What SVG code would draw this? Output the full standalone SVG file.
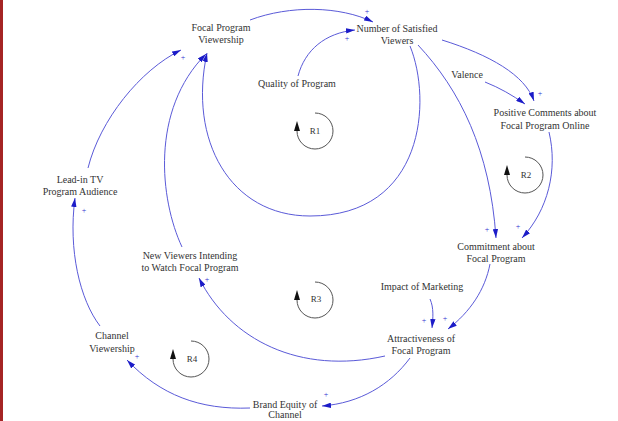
<svg xmlns="http://www.w3.org/2000/svg" width="618" height="421" viewBox="0 0 618 421" font-family="Liberation Serif, Times New Roman, serif">
<defs>
<marker id="ah" viewBox="0 0 10 6" refX="10" refY="3" markerWidth="9" markerHeight="5.4" markerUnits="userSpaceOnUse" orient="auto">
<path d="M0,0 L10,3 L0,6 Z" fill="#1c1cc8"/>
</marker>
<style>
.lbl{font-size:10px;fill:#333;text-anchor:middle}
.sgn{font-size:8px;fill:#3030d0;text-anchor:middle}
.con{fill:none;stroke:#5a5ad8;stroke-width:1;marker-end:url(#ah)}
.loop{fill:none;stroke:#555;stroke-width:1}
.lt{font-size:9px;fill:#333;text-anchor:middle}
</style>
</defs>
<rect x="0" y="0" width="618" height="421" fill="#fff"/>
<rect x="0" y="0" width="3" height="421" fill="#a52424"/>

<g id="connectors">
<path class="con" d="M250,20 C290,5 340,6 373,22"/>
<path class="con" d="M298,76 C305,50 325,33 355,30"/>
<path class="con" d="M410,46 C432,100 425,216 310,216 C230,216 188,140 207,53"/>
<path class="con" d="M182,247 C160,200 150,110 206,54"/>
<path class="con" d="M88,168 C100,120 140,70 181,50"/>
<path class="con" d="M100,326 C80,300 68,250 75,198"/>
<path class="con" d="M442,40 C490,55 525,75 534,101"/>
<path class="con" d="M485,82 C500,88 512,95 525,104"/>
<path class="con" d="M549,132 C558,170 548,210 522,238"/>
<path class="con" d="M418,45 C460,90 490,150 496,238"/>
<path class="con" d="M490,264 C485,290 470,312 448,329"/>
<path class="con" d="M430,299 C434,308 433,318 432,328"/>
<path class="con" d="M385,356 C300,375 230,340 199,278"/>
<path class="con" d="M410,358 C390,385 360,403 322,406"/>
<path class="con" d="M250,408 C200,410 160,395 127,360"/>
</g>

<g id="signs">
<text class="sgn" x="367" y="14">+</text>
<text class="sgn" x="347" y="41">+</text>
<text class="sgn" x="183" y="60">+</text>
<text class="sgn" x="84" y="213">+</text>
<text class="sgn" x="207" y="282">+</text>
<text class="sgn" x="540" y="96">+</text>
<text class="sgn" x="487" y="232">+</text>
<text class="sgn" x="518" y="229">+</text>
<text class="sgn" x="424" y="323">+</text>
<text class="sgn" x="445" y="321">+</text>
<text class="sgn" x="326" y="397">+</text>
<text class="sgn" x="137" y="359">+</text>
</g>

<g id="n-focal-viewership"><text class="lbl" x="221" y="31">Focal Program</text><text class="lbl" x="221" y="43">Viewership</text></g>
<g id="n-satisfied"><text class="lbl" x="397" y="32">Number of Satisfied</text><text class="lbl" x="397" y="44">Viewers</text></g>
<g id="n-quality"><text class="lbl" x="297" y="87">Quality of Program</text></g>
<g id="n-valence"><text class="lbl" x="467" y="78">Valence</text></g>
<g id="n-positive"><text class="lbl" x="545" y="116">Positive Comments about</text><text class="lbl" x="545" y="129">Focal Program Online</text></g>
<g id="n-leadin"><text class="lbl" x="80" y="183">Lead-in TV</text><text class="lbl" x="80" y="195">Program Audience</text></g>
<g id="n-newviewers"><text class="lbl" x="190" y="259">New Viewers Intending</text><text class="lbl" x="190" y="271">to Watch Focal Program</text></g>
<g id="n-commitment"><text class="lbl" x="496" y="250">Commitment about</text><text class="lbl" x="496" y="262">Focal Program</text></g>
<g id="n-impact"><text class="lbl" x="422" y="290">Impact of Marketing</text></g>
<g id="n-attract"><text class="lbl" x="421" y="342">Attractiveness of</text><text class="lbl" x="421" y="354">Focal Program</text></g>
<g id="n-channel"><text class="lbl" x="112" y="339">Channel</text><text class="lbl" x="112" y="352">Viewership</text></g>
<g id="n-brand"><text class="lbl" x="285" y="408">Brand Equity of</text><text class="lbl" x="285" y="418">Channel</text></g>

<g id="loop-r1"><path class="loop" d="M315,113 A18,18 0 1 1 297,131"/><path d="M297,121 L294,131 L300,131 Z" fill="#111"/><text class="lt" x="315" y="134">R1</text></g>
<g id="loop-r2"><path class="loop" d="M525,157 A18,18 0 1 1 507,175"/><path d="M507,165 L504,175 L510,175 Z" fill="#111"/><text class="lt" x="526" y="178">R2</text></g>
<g id="loop-r3"><path class="loop" d="M315,282 A18,18 0 1 1 297,300"/><path d="M297,290 L294,300 L300,300 Z" fill="#111"/><text class="lt" x="316" y="302">R3</text></g>
<g id="loop-r4"><path class="loop" d="M191,341 A18,18 0 1 1 173,359"/><path d="M173,349 L170,359 L176,359 Z" fill="#111"/><text class="lt" x="192" y="362">R4</text></g>
</svg>
